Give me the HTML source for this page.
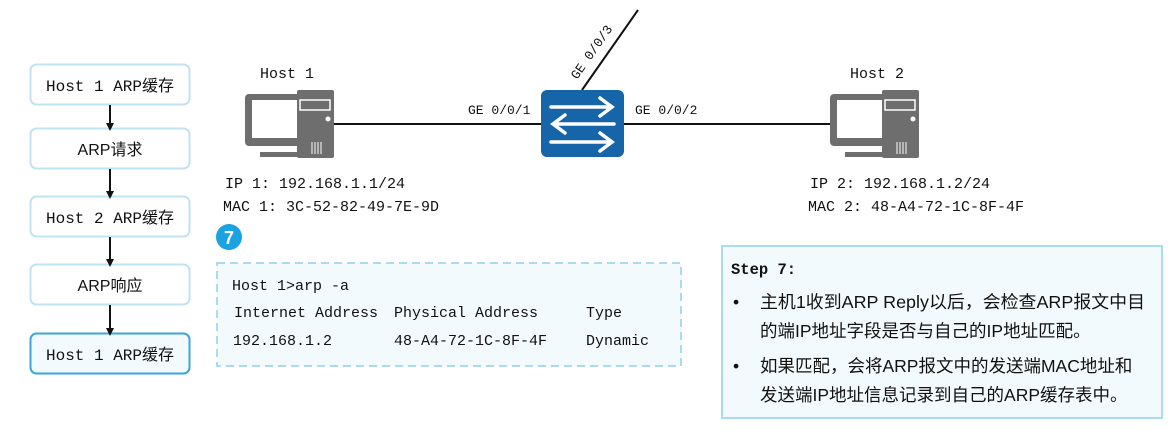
<!DOCTYPE html>
<html><head><meta charset="utf-8"><style>
body{margin:0;background:#fff;width:1172px;height:426px;overflow:hidden}
svg text{font-family:"Liberation Sans","Noto Sans CJK SC",sans-serif;fill:#111}
.m{font-family:"Liberation Mono","Noto Sans CJK SC",monospace}
</style></head><body>
<svg width="1172" height="426" viewBox="0 0 1172 426">
<defs>
<marker id="a" markerWidth="8" markerHeight="8" refX="4" refY="4" orient="auto" markerUnits="userSpaceOnUse"><path d="M0,0L8,4L0,8z" fill="#111"/></marker>
<g id="pc">
<rect x="0" y="4" width="64" height="52" rx="4" fill="#6e6e6e"/>
<rect x="7" y="10" width="50" height="38" fill="#fff"/>
<rect x="52" y="0" width="37" height="68" rx="2" fill="#6e6e6e"/>
<rect x="55" y="10" width="30" height="10" fill="none" stroke="#fff" stroke-width="1.5"/>
<circle cx="83" cy="29" r="2.5" fill="#fff"/>
<path d="M67 52v12M70 52v12M73 52v12M76 52v12" stroke="#fff" stroke-width="1"/>
<rect x="15" y="62" width="38" height="5" fill="#6e6e6e"/>
</g>
</defs>
<g font-size="16">
<rect x="30.5" y="64.5" width="159" height="40" rx="6" fill="#fff" stroke="#bfe3f3" stroke-width="2"/>
<text x="110" y="91" text-anchor="middle" class="m">Host 1 ARP缓存</text>
<rect x="30.5" y="128.5" width="159" height="40" rx="6" fill="#fff" stroke="#bfe3f3" stroke-width="2"/>
<text x="110" y="155" text-anchor="middle">ARP请求</text>
<rect x="30.5" y="196.5" width="159" height="40" rx="6" fill="#fff" stroke="#bfe3f3" stroke-width="2"/>
<text x="110" y="223" text-anchor="middle" class="m">Host 2 ARP缓存</text>
<rect x="30.5" y="264.5" width="159" height="40" rx="6" fill="#fff" stroke="#bfe3f3" stroke-width="2"/>
<text x="110" y="291" text-anchor="middle">ARP响应</text>
<rect x="30.5" y="333.5" width="159" height="40" rx="6" fill="#f3fafd" stroke="#3aa6dd" stroke-width="2"/>
<text x="110" y="360" text-anchor="middle" class="m">Host 1 ARP缓存</text>
</g>
<g stroke="#111" stroke-width="2" marker-end="url(#a)">
<line x1="110" y1="105" x2="110" y2="127"/>
<line x1="110" y1="169" x2="110" y2="195"/>
<line x1="110" y1="237" x2="110" y2="263"/>
<line x1="110" y1="305" x2="110" y2="332"/>
</g>
<g stroke="#111" stroke-width="2">
<line x1="334" y1="124" x2="541" y2="124"/>
<line x1="624" y1="124" x2="830" y2="124"/>
<line x1="582" y1="90" x2="638" y2="10"/>
</g>
<use href="#pc" x="245" y="90"/>
<use href="#pc" x="830" y="90"/>
<rect x="541" y="90" width="83" height="67" rx="6" fill="#1565a8"/>
<g stroke="#fff" stroke-width="3.5" fill="none" stroke-linecap="round">
<path d="M551 107H612M600 98l12 9-12 9"/>
<path d="M614 124H553M565 115l-12 9 12 9"/>
<path d="M551 142H612M600 133l12 9-12 9"/>
</g>
<g font-size="13" class="m">
<text x="468" y="114" class="m">GE 0/0/1</text>
<text x="635" y="114" class="m">GE 0/0/2</text>
<text transform="translate(577,80) rotate(-55)" class="m">GE 0/0/3</text>
</g>
<g font-size="15" class="m">
<text x="260" y="78" class="m">Host 1</text>
<text x="850" y="78" class="m">Host 2</text>
<text x="225" y="188" class="m">IP 1: 192.168.1.1/24</text>
<text x="223" y="211" class="m">MAC 1: 3C-52-82-49-7E-9D</text>
<text x="810" y="188" class="m">IP 2: 192.168.1.2/24</text>
<text x="808" y="211" class="m">MAC 2: 48-A4-72-1C-8F-4F</text>
</g>
<circle cx="229" cy="237" r="13" fill="#1aa3e0"/>
<text x="229" y="244" text-anchor="middle" font-size="18" font-weight="bold" style="fill:#fff">7</text>
<rect x="217" y="263" width="464" height="103" fill="#f3fafd" stroke="#8fd0ee" stroke-width="1.5" stroke-dasharray="8,5"/>
<g font-size="15" class="m">
<text x="232" y="290" class="m">Host 1&gt;arp -a</text>
<text x="234" y="317" class="m">Internet Address</text>
<text x="394" y="317" class="m">Physical Address</text>
<text x="586" y="317" class="m">Type</text>
<text x="233" y="345" class="m">192.168.1.2</text>
<text x="394" y="345" class="m">48-A4-72-1C-8F-4F</text>
<text x="586" y="345" class="m">Dynamic</text>
</g>
<rect x="722" y="246" width="440" height="172" fill="#f3fafd" stroke="#a8dcef" stroke-width="2"/>
<g font-size="17.5">
<text x="731" y="274" font-size="15.5" font-weight="bold" class="m">Step 7:</text>
<text x="733" y="308">•</text><text x="760" y="308" textLength="385" lengthAdjust="spacingAndGlyphs">主机1收到ARP Reply以后，会检查ARP报文中目</text>
<text x="760" y="337">的端IP地址字段是否与自己的IP地址匹配。</text>
<text x="733" y="372">•</text><text x="760" y="372">如果匹配，会将ARP报文中的发送端MAC地址和</text>
<text x="760" y="401">发送端IP地址信息记录到自己的ARP缓存表中。</text>
</g>
</svg>
</body></html>
